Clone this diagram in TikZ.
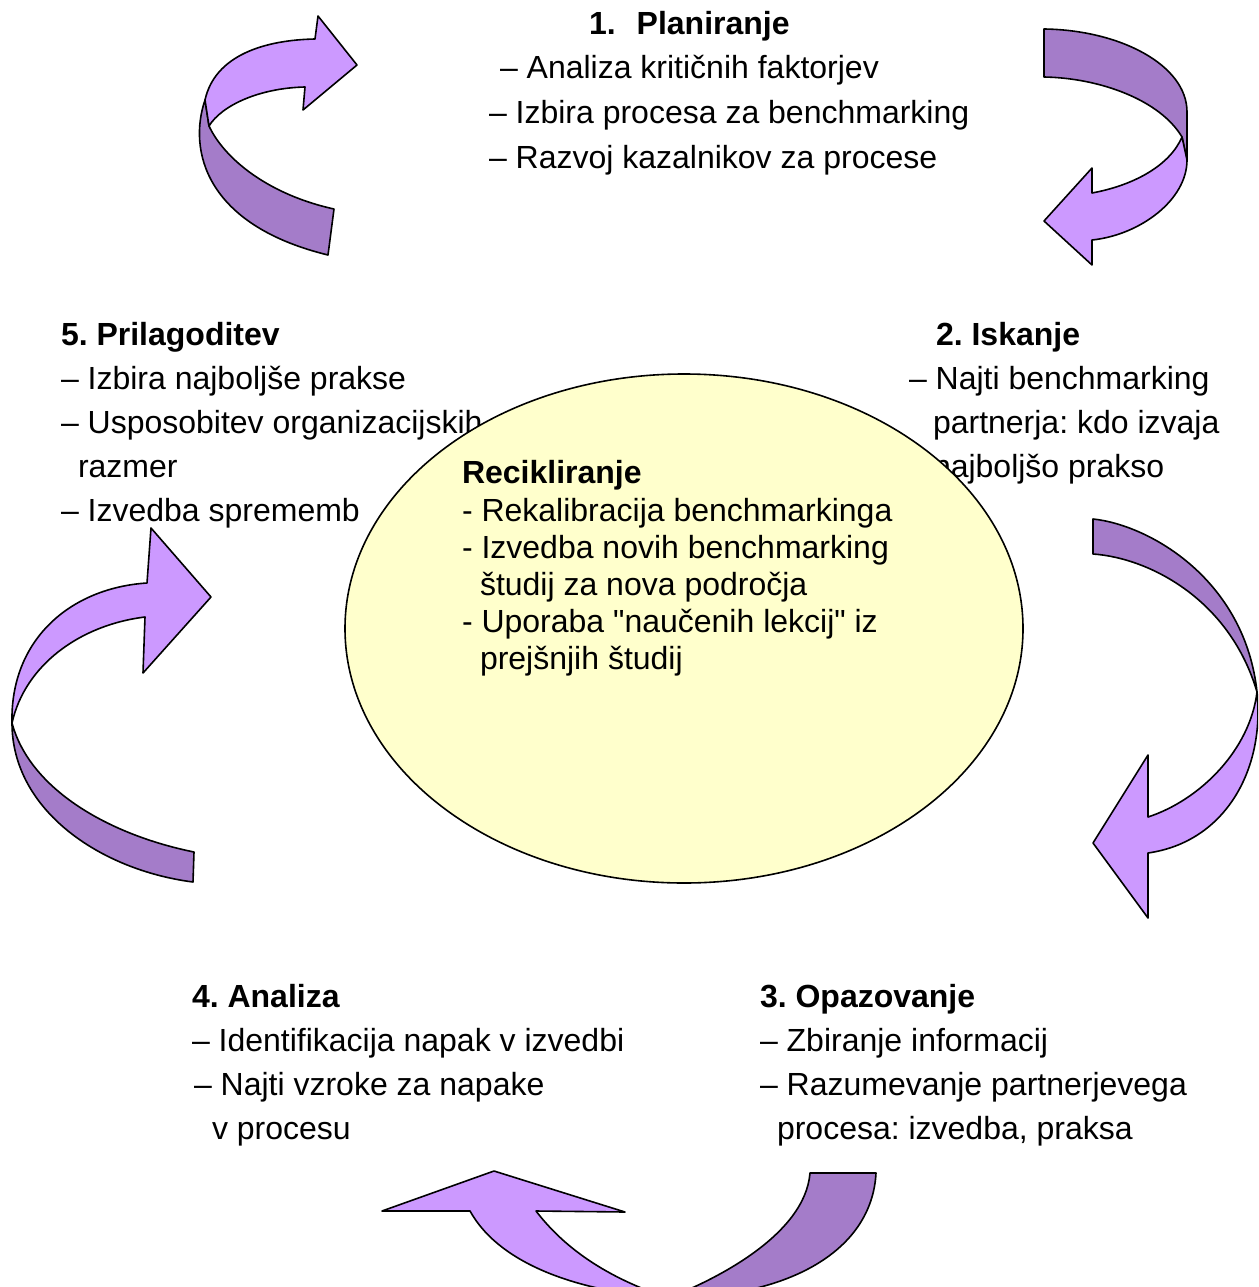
\documentclass[tikz,border=0pt]{standalone}
\usepackage{fontspec}
\setmainfont{Liberation Sans}[Ligatures=TeXOff]
\usetikzlibrary{shapes.geometric}
\definecolor{bandlight}{HTML}{CC99FF}
\definecolor{banddark}{HTML}{A47CC9}
\definecolor{hubfill}{HTML}{FFFFCC}
\frenchspacing
\tikzset{
  txt/.style={anchor=base west, inner sep=0pt, outer sep=0pt, font=\fontsize{32}{38}\selectfont},
  ttl/.style={txt, font=\fontsize{32}{38}\selectfont\bfseries},
  front/.style={fill=bandlight, draw=black, line width=1.6pt, line join=round},
  back/.style={fill=banddark, draw=black, line width=1.6pt, line join=round},
}
\begin{document}
\begin{tikzpicture}[x=1pt, y=-1pt]
\useasboundingbox (0,0) rectangle (1258,1287);
\clip (0,0) rectangle (1258,1287);

% ---- curved arrows between the stages ----
% top left: from stage 5 up to stage 1
\coordinate (tlA) at (205,100);
\coordinate (tlB) at (209,126);
\path[back] (tlA) .. controls (188,150) and (205,225) .. (328,255) -- (334,209)
  .. controls (270,195) and (225,160) .. (tlB) -- cycle;
\path[front] (tlA) .. controls (215,55) and (265,40) .. (315,39) -- (318,16) -- (357,65)
  -- (303,110) -- (305,87) .. controls (260,88) and (222,105) .. (tlB) -- cycle;

% top right: from stage 1 down to stage 2
\coordinate (trA) at (1182,137);
\coordinate (trB) at (1187,160);
\path[back] (1044,29) .. controls (1120,30) and (1187,65) .. (1187,112) -- (trB) -- (trA)
  .. controls (1160,100) and (1100,78) .. (1044,77) -- cycle;
\path[front] (trB) .. controls (1187,200) and (1140,235) .. (1092,240) -- (1092,265)
  -- (1044,221) -- (1092,168) -- (1092,193) .. controls (1135,185) and (1170,165) .. (trA) -- cycle;

% right: from stage 2 down to stage 3
\coordinate (rP) at (1257,692);
\path[back] (1093,519) .. controls (1150,525) and (1245,580) .. (rP)
  .. controls (1230,600) and (1150,558) .. (1093,554) -- cycle;
\path[front] (rP) .. controls (1265,770) and (1225,842) .. (1148,853) -- (1148,918)
  -- (1093,843) -- (1148,755) -- (1148,817) .. controls (1200,800) and (1250,750) .. (rP) -- cycle;

% bottom: from stage 3 over to stage 4 (the twist lies just below the frame)
\coordinate (bQ) at (668,1298);
\path[back] (876,1173) .. controls (872,1250) and (790,1298) .. (bQ)
  .. controls (715,1280) and (805,1235) .. (810,1173) -- cycle;
\path[front] (bQ) .. controls (580,1292) and (500,1265) .. (470,1211) -- (382,1211)
  -- (494,1171) -- (625,1212) -- (536,1211) .. controls (575,1262) and (630,1285) .. (bQ) -- cycle;

% left: from stage 4 up to stage 5
\coordinate (lP) at (12,723);
\path[back] (193,882) .. controls (100,870) and (12,810) .. (lP)
  .. controls (30,790) and (110,835) .. (194,852) -- cycle;
\path[front] (lP) .. controls (10,640) and (70,588) .. (147,583) -- (151,528) -- (211,597)
  -- (143,673) -- (145,617) .. controls (80,625) and (25,665) .. (lP) -- cycle;

% ---- stage texts ----
\node[ttl] (s1t) at (589,35) {1.\hspace{21pt}Planiranje};
\node[txt] (s1a) at (500,79) {– Analiza kritičnih faktorjev};
\node[txt] (s1b) at (489,124) {– Izbira procesa za benchmarking};
\node[txt] (s1c) at (489,168) {– Razvoj kazalnikov za procese};

\node[ttl] (s2t) at (936,345) {2. Iskanje};
\node[txt] (s2a) at (909,389) {– Najti benchmarking};
\node[txt] (s2b) at (933,433) {partnerja: kdo izvaja};
\node[txt] (s2c) at (933,477) {najboljšo prakso};

\node[ttl] (s5t) at (61,345) {5. Prilagoditev};
\node[txt] (s5a) at (61,389) {– Izbira najboljše prakse};
\node[txt] (s5b) at (61,433) {– Usposobitev organizacijskih};
\node[txt] (s5c) at (78,477) {razmer};
\node[txt] (s5d) at (61,521) {– Izvedba sprememb};

\node[ttl] (s4t) at (192,1007) {4. Analiza};
\node[txt] (s4a) at (192,1051) {– Identifikacija napak v izvedbi};
\node[txt] (s4b) at (194,1095) {– Najti vzroke za napake};
\node[txt] (s4c) at (212,1139) {v procesu};

\node[ttl] (s3t) at (760,1007) {3. Opazovanje};
\node[txt] (s3a) at (760,1051) {– Zbiranje informacij};
\node[txt] (s3b) at (760,1095) {– Razumevanje partnerjevega};
\node[txt] (s3c) at (777,1139) {procesa: izvedba, praksa};

% ---- central recycling ellipse ----
\node[ellipse, draw=black, line width=1.6pt, fill=hubfill, inner sep=0pt,
      minimum width=678pt, minimum height=509pt] (hub) at (684,628.5) {};
\node[ttl] (hubt) at (462,483) {Recikliranje};
\node[txt] (huba) at (462,521) {- Rekalibracija benchmarkinga};
\node[txt] (hubb) at (462,558) {- Izvedba novih benchmarking};
\node[txt] (hubc) at (480,595) {študij za nova področja};
\node[txt] (hubd) at (462,632) {- Uporaba "naučenih lekcij" iz};
\node[txt] (hube) at (480,669) {prejšnjih študij};
\end{tikzpicture}
\end{document}
